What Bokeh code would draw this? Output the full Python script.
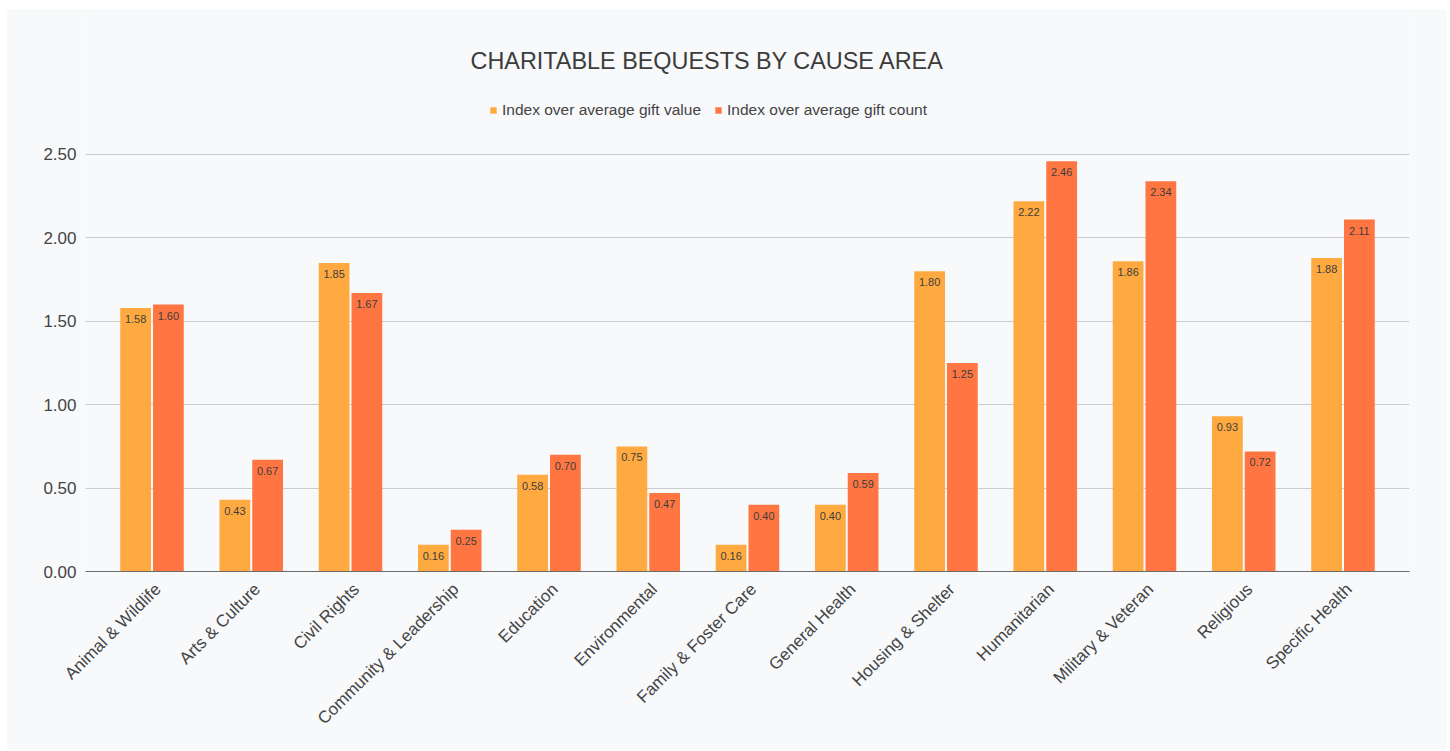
from bokeh.plotting import figure
from bokeh.models import (FactorRange, FixedTicker, Legend, LegendItem, Label,
                          ColumnDataSource, Range1d, LinearAxis, CustomJSTickFormatter)
from bokeh.transform import dodge
from bokeh.core.properties import value
from bokeh.embed import file_html
from bokeh.resources import INLINE
import math

categories = ["Animal & Wildlife", "Arts & Culture", "Civil Rights",
              "Community & Leadership", "Education", "Environmental",
              "Family & Foster Care", "General Health", "Housing & Shelter",
              "Humanitarian", "Military & Veteran", "Religious", "Specific Health"]
gift_value = [1.58, 0.43, 1.85, 0.16, 0.58, 0.75, 0.16, 0.40, 1.80, 2.22, 1.86, 0.93, 1.88]
gift_count = [1.60, 0.67, 1.67, 0.25, 0.70, 0.47, 0.40, 0.59, 1.25, 2.46, 2.34, 0.72, 2.11]
series_names = ["Index over average gift value", "Index over average gift count"]
y_ticks = [0.0, 0.5, 1.0, 1.5, 2.0, 2.5]
title_text = "CHARITABLE BEQUESTS BY CAUSE AREA"

FONT = "Liberation Sans"
BG = "#f8f9fb"
C1 = "#ffaa40"
C2 = "#ff7642"
LABEL_SHIFT = 0.06

src = ColumnDataSource(dict(
    cat=categories,
    v1=gift_value,
    v2=gift_count,
    l1=["%.2f" % v for v in gift_value],
    l2=["%.2f" % v for v in gift_count],
))

p = figure(
    x_range=FactorRange(*categories, range_padding=0.17, range_padding_units="absolute"),
    y_range=Range1d(0, 3.369),
    width=1441, height=740,
    output_backend="svg", toolbar_location=None,
    min_border_left=79, min_border_right=38, min_border_top=0, min_border_bottom=178,
    background_fill_color=BG, border_fill_color=BG, outline_line_color=None,
)
p.margin = (9, 3, 2, 6)

r1 = p.vbar(x=dodge("cat", -0.165, range=p.x_range), top="v1", width=0.31,
            source=src, fill_color=C1, line_color=None)
r2 = p.vbar(x=dodge("cat", 0.165, range=p.x_range), top="v2", width=0.31,
            source=src, fill_color=C2, line_color=None)

p.text(x=dodge("cat", -0.165, range=p.x_range), y="v1", text="l1", source=src,
       text_align="center", text_baseline="middle", y_offset=11,
       text_font=value(FONT), text_font_size="11px", text_color="#3d3d3d")
p.text(x=dodge("cat", 0.165, range=p.x_range), y="v2", text="l2", source=src,
       text_align="center", text_baseline="middle", y_offset=11,
       text_font=value(FONT), text_font_size="11px", text_color="#3d3d3d")

# y axis
p.yaxis.ticker = FixedTicker(ticks=y_ticks)
p.yaxis.formatter.use_scientific = False
p.yaxis.major_label_overrides = {t: "%.2f" % t for t in y_ticks}
p.yaxis.axis_line_color = None
p.yaxis.major_tick_line_color = None
p.yaxis.minor_tick_line_color = None
p.yaxis.major_tick_out = 0
p.yaxis.major_label_standoff = 9
p.yaxis.major_label_text_font = FONT
p.yaxis.major_label_text_font_size = "17px"
p.yaxis.major_label_text_color = "#444444"

# x axis: the categorical axis is hidden; a numeric axis on the factor range's
# synthetic coordinates draws the category names, nudged so they hang like the original
p.xaxis.visible = False
n = len(categories)
xax = LinearAxis(
    ticker=FixedTicker(ticks=[i + 0.5 + LABEL_SHIFT for i in range(n)]),
    formatter=CustomJSTickFormatter(args=dict(labels=categories, shift=LABEL_SHIFT),
                                    code="return labels[Math.round(tick - 0.5 - shift)]"),
    axis_line_color="#6b6b6b", axis_line_width=1,
    major_tick_line_color=None, minor_tick_line_color=None,
    major_tick_out=0, major_tick_in=0,
    major_label_standoff=15,
    major_label_orientation=math.pi / 4,
    major_label_text_font=FONT, major_label_text_font_size="17px",
    major_label_text_color="#444444",
)
p.add_layout(xax, "below")

p.xgrid.grid_line_color = None
p.ygrid.ticker = FixedTicker(ticks=y_ticks)
p.ygrid.grid_line_color = "#cccccc"
p.ygrid.grid_line_width = 1

# title
p.add_layout(Label(x=622, y=511, x_units="screen", y_units="screen", text=title_text,
                   text_align="center", text_baseline="middle",
                   text_font=FONT, text_font_size="23.4px", text_color="#3c3c3c"))

legend = Legend(items=[LegendItem(label=series_names[0], renderers=[r1]),
                       LegendItem(label=series_names[1], renderers=[r2])],
                location=(404, 452), orientation="horizontal",
                padding=0, margin=0, spacing=13, label_standoff=5,
                glyph_width=8, glyph_height=8, label_height=18,
                border_line_color=None, background_fill_alpha=0,
                label_text_font=FONT, label_text_font_size="15.5px",
                label_text_color="#444444")
p.add_layout(legend)

open("out.html", "w").write(file_html(p, INLINE))
